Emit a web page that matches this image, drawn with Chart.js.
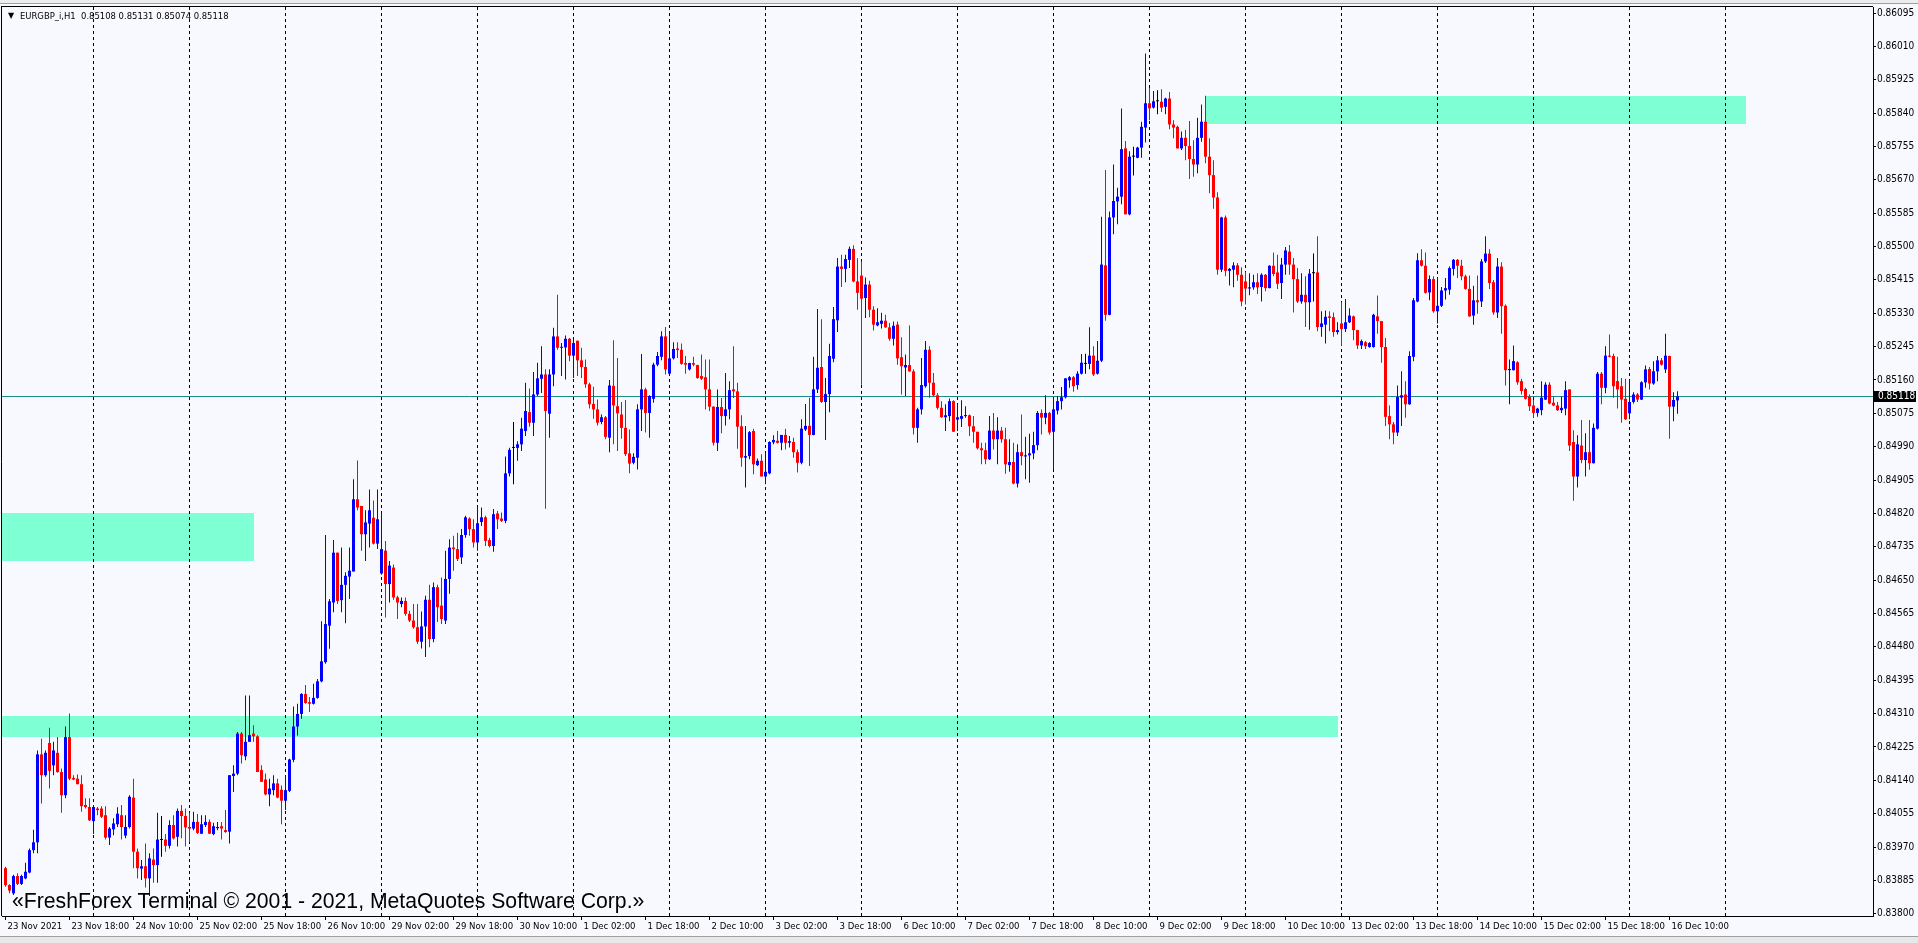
<!DOCTYPE html>
<html>
<head>
<meta charset="utf-8">
<script src="https://cdn.jsdelivr.net/npm/chart.js@4.4.1/dist/chart.umd.min.js"></script>
<style>
  html, body { margin:0; padding:0; background:#F8F8FF; overflow:hidden; }
  #wrap { position:relative; width:1918px; height:943px; background:#F8F8FF; }
  #c { position:absolute; left:0; top:0; }
  #topbar { position:absolute; left:0; top:0; width:1918px; height:3px; background:#EDEDED; border-bottom:1px solid #A0A0A0; }
  #tri { position:absolute; left:8px; top:10px; font-family:'DejaVu Sans',sans-serif; font-size:8px; line-height:12px; color:#000; }
  #header { position:absolute; left:20px; top:10px; font-family:'DejaVu Sans Condensed','DejaVu Sans',sans-serif; font-size:9.4px; color:#000; white-space:pre; line-height:12px; }
  #mark { position:absolute; left:12px; top:888px; font-family:'Liberation Sans',Arial,sans-serif; font-size:21.2px; color:#000; white-space:pre; line-height:26px; }
  #tabs { position:absolute; left:0; top:936px; width:1918px; height:7px; background:#E8E8E8; border-top:1px solid #A0A0A0; }
</style>
</head>
<body>
<div id="wrap">
  <canvas id="c" width="1918" height="943"></canvas>
  <div id="topbar"></div>
  <div id="tri">▼</div>
  <div id="header">EURGBP_i,H1  0.85108 0.85131 0.85074 0.85118</div>
  <div id="mark">«FreshForex Terminal © 2001 - 2021, MetaQuotes Software Corp.»</div>
  <div id="tabs"></div>
</div>
<script>
// ---- data: EURGBP H1, bar 0 = 23 Nov 2021 02:00 ----
const open = [
0.83916,0.83873,0.83852,0.83896,0.83876,0.83890,0.83905,0.83962,0.83982,0.84206,0.84153,0.84235,0.84178,0.84210,0.84161,0.84102,
0.84250,0.84146,0.84144,0.84130,0.84077,0.84072,0.84036,0.84068,0.84068,0.84051,0.83994,0.84015,0.84028,0.84051,0.83999,0.84021,
0.84096,0.83958,0.83915,0.83921,0.83890,0.83938,0.83924,0.83988,0.83989,0.83973,0.84026,0.83996,0.84062,0.84049,0.84021,0.84017,
0.84034,0.84004,0.84026,0.84034,0.84003,0.84018,0.84023,0.84013,0.84009,0.84151,0.84157,0.84259,0.84201,0.84238,0.84259,0.84252,
0.84166,0.84142,0.84104,0.84115,0.84132,0.84116,0.84088,0.84113,0.84192,0.84277,0.84309,0.84360,0.84339,0.84335,0.84350,0.84392,
0.84441,0.84534,0.84593,0.84720,0.84599,0.84638,0.84659,0.84672,0.84856,0.84839,0.84767,0.84794,0.84809,0.84743,0.84667,0.84725,
0.84640,0.84682,0.84606,0.84589,0.84597,0.84564,0.84547,0.84530,0.84493,0.84532,0.84600,0.84500,0.84632,0.84585,0.84547,0.84653,
0.84733,0.84729,0.84708,0.84765,0.84807,0.84780,0.84746,0.84798,0.84810,0.84752,0.84737,0.84820,0.84807,0.84801,0.84922,0.84987,
0.84987,0.84996,0.85030,0.85078,0.85051,0.85123,0.85163,0.85174,0.85074,0.85174,0.85271,0.85242,0.85243,0.85265,0.85222,0.85260,
0.85210,0.85193,0.85149,0.85099,0.85085,0.85053,0.85065,0.85013,0.85145,0.85093,0.85072,0.85038,0.84973,0.84949,0.84962,0.85085,
0.85136,0.85076,0.85112,0.85199,0.85219,0.85271,0.85176,0.85215,0.85240,0.85237,0.85203,0.85187,0.85203,0.85198,0.85170,0.85167,
0.85136,0.85092,0.85000,0.85091,0.85068,0.85085,0.85136,0.85131,0.85042,0.84962,0.84966,0.85030,0.84943,0.84954,0.84914,0.84922,
0.85001,0.85005,0.85000,0.85020,0.85000,0.85002,0.84976,0.84949,0.85034,0.85043,0.85020,0.85136,0.85193,0.85104,0.85124,0.85214,
0.85312,0.85449,0.85443,0.85466,0.85494,0.85411,0.85426,0.85369,0.85403,0.85339,0.85299,0.85303,0.85311,0.85294,0.85265,0.85301,
0.85218,0.85192,0.85198,0.85182,0.85038,0.85085,0.85144,0.85237,0.85153,0.85121,0.85089,0.85065,0.85068,0.85106,0.85059,0.85061,
0.85068,0.85070,0.85042,0.85028,0.84986,0.84981,0.84958,0.85031,0.85009,0.85031,0.85009,0.84943,0.84951,0.84896,0.84976,0.84965,
0.84968,0.84973,0.84994,0.85076,0.85064,0.85076,0.85028,0.85082,0.85106,0.85116,0.85159,0.85167,0.85147,0.85176,0.85201,0.85201,
0.85222,0.85176,0.85209,0.85452,0.85326,0.85574,0.85615,0.85627,0.85750,0.85582,0.85729,0.85726,0.85752,0.85803,0.85865,0.85854,
0.85870,0.85869,0.85856,0.85877,0.85811,0.85805,0.85750,0.85777,0.85756,0.85723,0.85709,0.85777,0.85818,0.85729,0.85682,0.85625,
0.85441,0.85574,0.85438,0.85441,0.85452,0.85428,0.85411,0.85393,0.85396,0.85409,0.85397,0.85428,0.85394,0.85451,0.85434,0.85407,
0.85454,0.85487,0.85454,0.85417,0.85360,0.85377,0.85358,0.85432,0.85434,0.85295,0.85301,0.85322,0.85320,0.85282,0.85304,0.85290,
0.85307,0.85322,0.85287,0.85248,0.85256,0.85244,0.85244,0.85322,0.85310,0.85244,0.85068,0.85047,0.85026,0.85115,0.85123,0.85098,
0.85219,0.85360,0.85465,0.85451,0.85383,0.85417,0.85335,0.85349,0.85388,0.85390,0.85443,0.85466,0.85451,0.85424,0.85392,0.85324,
0.85363,0.85360,0.85462,0.85482,0.85409,0.85332,0.85449,0.85349,0.85185,0.85185,0.85205,0.85157,0.85137,0.85117,0.85095,0.85076,
0.85083,0.85110,0.85148,0.85102,0.85095,0.85083,0.85087,0.85136,0.85002,0.84914,0.84993,0.84956,0.84976,0.84948,0.85036,0.85176,
0.85140,0.85222,0.85221,0.85157,0.85144,0.85112,0.85075,0.85104,0.85123,0.85110,0.85154,0.85188,0.85151,0.85182,0.85210,0.85187,
0.85221,0.85092,0.85108
];
const high = [
0.83920,0.83875,0.83899,0.83903,0.83899,0.83930,0.83966,0.84014,0.84216,0.84246,0.84216,0.84274,0.84238,0.84250,0.84170,0.84277,
0.84310,0.84153,0.84155,0.84153,0.84094,0.84094,0.84077,0.84072,0.84074,0.84074,0.84021,0.84043,0.84071,0.84077,0.84051,0.84102,
0.84144,0.83966,0.83937,0.83979,0.83954,0.83966,0.84057,0.84049,0.84003,0.84038,0.84051,0.84068,0.84077,0.84068,0.84057,0.84060,
0.84054,0.84051,0.84051,0.84040,0.84032,0.84034,0.84034,0.84064,0.84153,0.84178,0.84263,0.84263,0.84356,0.84356,0.84280,0.84255,
0.84178,0.84157,0.84144,0.84153,0.84144,0.84127,0.84153,0.84195,0.84328,0.84335,0.84362,0.84383,0.84352,0.84386,0.84398,0.84545,
0.84765,0.84602,0.84752,0.84720,0.84733,0.84670,0.84733,0.84907,0.84955,0.84839,0.84828,0.84881,0.84853,0.84881,0.84822,0.84750,
0.84699,0.84690,0.84610,0.84606,0.84606,0.84572,0.84589,0.84589,0.84570,0.84610,0.84638,0.84644,0.84638,0.84657,0.84725,0.84754,
0.84763,0.84771,0.84780,0.84814,0.84810,0.84805,0.84835,0.84835,0.84814,0.84758,0.84831,0.84826,0.84822,0.84965,0.84987,0.85053,
0.85004,0.85064,0.85153,0.85138,0.85180,0.85204,0.85246,0.85187,0.85187,0.85293,0.85377,0.85254,0.85273,0.85267,0.85263,0.85260,
0.85242,0.85212,0.85153,0.85143,0.85110,0.85072,0.85068,0.85160,0.85261,0.85216,0.85104,0.85109,0.85034,0.84973,0.85098,0.85226,
0.85140,0.85121,0.85204,0.85231,0.85284,0.85295,0.85280,0.85256,0.85256,0.85253,0.85221,0.85204,0.85219,0.85199,0.85225,0.85212,
0.85212,0.85093,0.85136,0.85114,0.85178,0.85157,0.85246,0.85153,0.85070,0.85043,0.85030,0.85036,0.84960,0.84971,0.84975,0.85004,
0.85019,0.85030,0.85020,0.85036,0.85017,0.85013,0.84983,0.85060,0.85099,0.85115,0.85219,0.85341,0.85315,0.85165,0.85252,0.85346,
0.85471,0.85479,0.85479,0.85500,0.85503,0.85470,0.85462,0.85421,0.85413,0.85348,0.85343,0.85331,0.85326,0.85305,0.85309,0.85309,
0.85269,0.85225,0.85299,0.85187,0.85089,0.85216,0.85259,0.85246,0.85178,0.85127,0.85106,0.85098,0.85113,0.85108,0.85098,0.85108,
0.85093,0.85072,0.85068,0.85028,0.85000,0.85000,0.85068,0.85076,0.85065,0.85040,0.85038,0.85009,0.85000,0.84996,0.85072,0.85015,
0.85023,0.85028,0.85081,0.85085,0.85121,0.85079,0.85115,0.85119,0.85142,0.85165,0.85170,0.85170,0.85182,0.85226,0.85227,0.85294,
0.85246,0.85259,0.85576,0.85695,0.85589,0.85709,0.85650,0.85852,0.85769,0.85743,0.85754,0.85754,0.85818,0.85992,0.85904,0.85896,
0.85898,0.85901,0.85879,0.85894,0.85822,0.85808,0.85793,0.85797,0.85820,0.85771,0.85828,0.85862,0.85884,0.85776,0.85720,0.85638,
0.85576,0.85579,0.85445,0.85460,0.85458,0.85447,0.85435,0.85432,0.85428,0.85432,0.85432,0.85430,0.85452,0.85485,0.85479,0.85471,
0.85499,0.85504,0.85471,0.85445,0.85432,0.85424,0.85443,0.85482,0.85526,0.85335,0.85337,0.85335,0.85332,0.85307,0.85358,0.85366,
0.85343,0.85324,0.85288,0.85263,0.85259,0.85256,0.85329,0.85375,0.85310,0.85267,0.85095,0.85053,0.85146,0.85182,0.85157,0.85233,
0.85369,0.85483,0.85493,0.85485,0.85426,0.85424,0.85420,0.85397,0.85420,0.85449,0.85468,0.85468,0.85466,0.85428,0.85426,0.85400,
0.85426,0.85468,0.85526,0.85493,0.85415,0.85471,0.85460,0.85352,0.85212,0.85248,0.85208,0.85163,0.85140,0.85123,0.85109,0.85089,
0.85157,0.85154,0.85154,0.85117,0.85104,0.85117,0.85157,0.85136,0.85032,0.85019,0.85058,0.85024,0.85058,0.85049,0.85180,0.85180,
0.85246,0.85276,0.85227,0.85219,0.85165,0.85163,0.85160,0.85129,0.85127,0.85157,0.85197,0.85193,0.85208,0.85221,0.85216,0.85278,
0.85222,0.85129,0.85131
];
const low = [
0.83869,0.83852,0.83848,0.83873,0.83873,0.83888,0.83903,0.83954,0.83954,0.84081,0.84149,0.84119,0.84153,0.84159,0.84057,0.84094,
0.84140,0.84140,0.84130,0.84060,0.84068,0.84036,0.84003,0.84051,0.84044,0.83989,0.83975,0.84000,0.84021,0.83989,0.83992,0.84017,
0.83916,0.83890,0.83886,0.83867,0.83845,0.83879,0.83879,0.83945,0.83958,0.83966,0.83989,0.83971,0.83992,0.83971,0.83983,0.84013,
0.84003,0.84003,0.84021,0.84003,0.84000,0.84013,0.83989,0.84006,0.83979,0.84110,0.84153,0.84183,0.84191,0.84238,0.84238,0.84161,
0.84136,0.84102,0.84074,0.84102,0.84094,0.84028,0.84064,0.84110,0.84186,0.84254,0.84297,0.84335,0.84314,0.84333,0.84348,0.84390,
0.84437,0.84475,0.84568,0.84589,0.84568,0.84540,0.84602,0.84672,0.84828,0.84725,0.84699,0.84733,0.84741,0.84729,0.84664,0.84555,
0.84593,0.84600,0.84551,0.84581,0.84559,0.84543,0.84526,0.84487,0.84476,0.84454,0.84479,0.84492,0.84543,0.84538,0.84538,0.84615,
0.84674,0.84699,0.84691,0.84758,0.84763,0.84733,0.84725,0.84788,0.84737,0.84733,0.84722,0.84780,0.84798,0.84795,0.84914,0.84894,
0.84954,0.84979,0.85017,0.85041,0.85017,0.85119,0.85127,0.84832,0.85013,0.85144,0.85237,0.85170,0.85161,0.85208,0.85165,0.85170,
0.85165,0.85140,0.85087,0.85061,0.85044,0.85047,0.85009,0.84976,0.84996,0.84979,0.85010,0.84966,0.84922,0.84945,0.84932,0.85030,
0.85026,0.85013,0.85102,0.85195,0.85210,0.85174,0.85174,0.85212,0.85216,0.85199,0.85176,0.85184,0.85195,0.85163,0.85160,0.85085,
0.85081,0.84993,0.84979,0.85024,0.85044,0.85060,0.85114,0.84985,0.84939,0.84886,0.84958,0.84920,0.84941,0.84914,0.84894,0.84920,
0.84996,0.84998,0.84981,0.84983,0.84988,0.84962,0.84924,0.84945,0.85030,0.84941,0.85019,0.85127,0.85102,0.85007,0.85078,0.85205,
0.85282,0.85397,0.85409,0.85445,0.85409,0.85339,0.85148,0.85318,0.85320,0.85286,0.85297,0.85291,0.85293,0.85260,0.85248,0.85199,
0.85123,0.85119,0.85181,0.85021,0.85000,0.85072,0.85140,0.85115,0.85119,0.85085,0.85064,0.85030,0.85055,0.85028,0.85030,0.85040,
0.85064,0.85017,0.85000,0.84983,0.84945,0.84945,0.84956,0.84983,0.84945,0.85000,0.84921,0.84926,0.84894,0.84886,0.84943,0.84907,
0.84898,0.84958,0.84981,0.85021,0.85047,0.85021,0.84932,0.85072,0.85085,0.85113,0.85140,0.85130,0.85136,0.85174,0.85176,0.85187,
0.85170,0.85174,0.85206,0.85311,0.85325,0.85531,0.85557,0.85608,0.85582,0.85580,0.85681,0.85725,0.85726,0.85765,0.85822,0.85852,
0.85837,0.85843,0.85837,0.85799,0.85776,0.85750,0.85746,0.85720,0.85672,0.85678,0.85687,0.85767,0.85712,0.85636,0.85596,0.85428,
0.85435,0.85424,0.85401,0.85396,0.85413,0.85348,0.85352,0.85376,0.85390,0.85379,0.85360,0.85386,0.85394,0.85424,0.85392,0.85366,
0.85428,0.85428,0.85332,0.85356,0.85354,0.85295,0.85288,0.85360,0.85284,0.85270,0.85253,0.85284,0.85270,0.85276,0.85248,0.85282,
0.85305,0.85261,0.85239,0.85239,0.85239,0.85242,0.85242,0.85278,0.85204,0.85043,0.85009,0.84996,0.85017,0.85043,0.85064,0.85097,
0.85208,0.85358,0.85449,0.85380,0.85363,0.85331,0.85304,0.85346,0.85365,0.85377,0.85426,0.85420,0.85414,0.85390,0.85321,0.85301,
0.85329,0.85346,0.85458,0.85392,0.85326,0.85318,0.85278,0.85146,0.85098,0.85184,0.85148,0.85123,0.85110,0.85081,0.85064,0.85066,
0.85070,0.85109,0.85098,0.85093,0.85081,0.85076,0.85070,0.84979,0.84852,0.84886,0.84948,0.84914,0.84931,0.84947,0.85034,0.85098,
0.85126,0.85218,0.85115,0.85087,0.85051,0.85058,0.85060,0.85100,0.85104,0.85109,0.85140,0.85136,0.85148,0.85157,0.85197,0.85178,
0.85010,0.85055,0.85074
];
const close = [
0.83873,0.83859,0.83896,0.83876,0.83896,0.83907,0.83962,0.83982,0.84206,0.84153,0.84210,0.84164,0.84216,0.84161,0.84102,0.84250,
0.84144,0.84142,0.84130,0.84074,0.84072,0.84038,0.84072,0.84064,0.84047,0.83994,0.84017,0.84030,0.84055,0.84021,0.84021,0.84098,
0.83958,0.83916,0.83921,0.83890,0.83941,0.83924,0.83989,0.83988,0.83973,0.84026,0.83992,0.84062,0.84049,0.84020,0.84017,0.84034,
0.84006,0.84028,0.84034,0.84004,0.84023,0.84021,0.84017,0.84008,0.84153,0.84157,0.84259,0.84204,0.84238,0.84255,0.84252,0.84161,
0.84136,0.84104,0.84119,0.84132,0.84096,0.84088,0.84115,0.84193,0.84277,0.84309,0.84360,0.84337,0.84335,0.84350,0.84392,0.84443,
0.84538,0.84596,0.84720,0.84597,0.84638,0.84661,0.84674,0.84856,0.84835,0.84767,0.84797,0.84828,0.84743,0.84805,0.84729,0.84640,
0.84687,0.84606,0.84593,0.84597,0.84564,0.84547,0.84530,0.84493,0.84532,0.84600,0.84500,0.84632,0.84581,0.84551,0.84653,0.84733,
0.84729,0.84704,0.84765,0.84810,0.84780,0.84746,0.84795,0.84810,0.84750,0.84737,0.84818,0.84805,0.84801,0.84922,0.84982,0.84987,
0.84996,0.85036,0.85081,0.85051,0.85123,0.85164,0.85174,0.85081,0.85174,0.85271,0.85242,0.85243,0.85265,0.85222,0.85254,0.85210,
0.85193,0.85149,0.85098,0.85085,0.85051,0.85065,0.85015,0.85146,0.85095,0.85075,0.85038,0.84971,0.84947,0.84964,0.85085,0.85136,
0.85076,0.85119,0.85199,0.85221,0.85271,0.85187,0.85215,0.85239,0.85236,0.85201,0.85199,0.85203,0.85199,0.85165,0.85163,0.85136,
0.85092,0.85000,0.85091,0.85068,0.85085,0.85134,0.85131,0.85041,0.84962,0.84966,0.85027,0.84945,0.84954,0.84914,0.84926,0.85002,
0.85007,0.85000,0.85020,0.85000,0.85004,0.84976,0.84949,0.85036,0.85043,0.85020,0.85136,0.85191,0.85104,0.85124,0.85221,0.85315,
0.85449,0.85443,0.85468,0.85494,0.85411,0.85382,0.85367,0.85403,0.85339,0.85301,0.85307,0.85311,0.85294,0.85265,0.85298,0.85215,
0.85195,0.85198,0.85182,0.85038,0.85085,0.85147,0.85237,0.85153,0.85121,0.85089,0.85065,0.85070,0.85106,0.85028,0.85065,0.85068,
0.85070,0.85042,0.85028,0.84986,0.84981,0.84958,0.85031,0.85009,0.85031,0.85009,0.84945,0.84951,0.84896,0.84976,0.84966,0.84968,
0.84973,0.84994,0.85076,0.85064,0.85076,0.85026,0.85085,0.85106,0.85116,0.85164,0.85167,0.85144,0.85176,0.85204,0.85201,0.85222,
0.85174,0.85209,0.85454,0.85326,0.85574,0.85616,0.85627,0.85748,0.85582,0.85729,0.85729,0.85752,0.85805,0.85865,0.85852,0.85870,
0.85870,0.85854,0.85877,0.85811,0.85803,0.85750,0.85777,0.85756,0.85723,0.85709,0.85777,0.85818,0.85729,0.85682,0.85625,0.85441,
0.85574,0.85438,0.85443,0.85452,0.85428,0.85360,0.85393,0.85396,0.85409,0.85396,0.85428,0.85394,0.85451,0.85430,0.85405,0.85454,
0.85490,0.85454,0.85417,0.85360,0.85377,0.85358,0.85431,0.85432,0.85295,0.85304,0.85321,0.85318,0.85282,0.85287,0.85290,0.85307,
0.85324,0.85287,0.85248,0.85259,0.85246,0.85254,0.85326,0.85310,0.85244,0.85066,0.85047,0.85026,0.85117,0.85121,0.85098,0.85221,
0.85363,0.85465,0.85451,0.85382,0.85417,0.85335,0.85349,0.85388,0.85394,0.85445,0.85466,0.85451,0.85424,0.85392,0.85322,0.85363,
0.85358,0.85462,0.85482,0.85407,0.85332,0.85449,0.85348,0.85185,0.85188,0.85208,0.85154,0.85132,0.85112,0.85093,0.85076,0.85087,
0.85115,0.85148,0.85100,0.85095,0.85083,0.85089,0.85134,0.84993,0.84914,0.84996,0.84956,0.84976,0.84948,0.85038,0.85176,0.85140,
0.85222,0.85219,0.85144,0.85136,0.85110,0.85060,0.85104,0.85123,0.85110,0.85154,0.85187,0.85151,0.85182,0.85210,0.85199,0.85222,
0.85092,0.85109,0.85118
];
// time axis labels (every 16 bars) and day separators (bar index of 00:00)
const timeLabelBars = [0,16,32,48,64,80,96,112,128,144,160,176,192,208,224,240,256,272,288,304,320,336,352,368,384,400,416];
const timeLabels = ['23 Nov 2021','23 Nov 18:00','24 Nov 10:00','25 Nov 02:00','25 Nov 18:00','26 Nov 10:00','29 Nov 02:00','29 Nov 18:00','30 Nov 10:00','1 Dec 02:00','1 Dec 18:00','2 Dec 10:00','3 Dec 02:00','3 Dec 18:00','6 Dec 10:00','7 Dec 02:00','7 Dec 18:00','8 Dec 10:00','9 Dec 02:00','9 Dec 18:00','10 Dec 10:00','13 Dec 02:00','13 Dec 18:00','14 Dec 10:00','15 Dec 02:00','15 Dec 18:00','16 Dec 10:00'];
const daySeparators = [22,46,70,94,118,142,166,190,214,238,262,286,310,334,358,382,406,430];
const priceTicks = [0.83800,0.83885,0.83970,0.84055,0.84140,0.84225,0.84310,0.84395,0.84480,0.84565,0.84650,0.84735,0.84820,0.84905,0.84990,0.85075,0.85160,0.85245,0.85330,0.85415,0.85500,0.85585,0.85670,0.85755,0.85840,0.85925,0.86010,0.86095];
// supply/demand rectangles: [fromBar, toBar, upperPrice, lowerPrice]
const zoneFrom  = [300, -5, -5];
const zoneTo    = [435, 62, 333];
const zoneHigh  = [0.85884, 0.84820, 0.84304];
const zoneLow   = [0.85811, 0.84699, 0.84250];

// ---- build chart ----
const UP='#0000FF', DOWN='#FF0000', DOJI='#000000';
const colors = close.map((c,i)=> c>open[i] ? UP : (c<open[i] ? DOWN : DOJI));
const bodies = close.map((c,i)=>({x:i, y:[Math.min(open[i],c), Math.max(open[i],c)]}));
const wicks  = close.map((c,i)=>({x:i, y:[low[i], high[i]]}));
const FONT = "'DejaVu Sans Condensed','DejaVu Sans',sans-serif";
const XMIN = -0.875, XMAX = 466.875;

const overlay = {
  id:'mtOverlay',
  beforeDraw(chart){
    const {ctx, chartArea:a, scales:{x,y}} = chart;
    ctx.save();
    ctx.beginPath(); ctx.rect(a.left, a.top, a.right-a.left, a.bottom-a.top); ctx.clip();
    ctx.fillStyle = '#7FFFD4';
    for (let k=0;k<zoneFrom.length;k++){
      const x1 = Math.round(x.getPixelForValue(zoneFrom[k])), x2 = Math.round(x.getPixelForValue(zoneTo[k]));
      const y1 = Math.round(y.getPixelForValue(zoneHigh[k])), y2 = Math.round(y.getPixelForValue(zoneLow[k]));
      ctx.fillRect(x1, y1, x2-x1, y2-y1);
    }
    ctx.restore();
  },
  beforeDatasetsDraw(chart){
    const {ctx, chartArea:a, scales:{y}} = chart;
    const py = Math.round(y.getPixelForValue(close[close.length-1])) + 0.5;
    ctx.save();
    ctx.strokeStyle = '#1F8A8A'; ctx.lineWidth = 1;
    ctx.beginPath(); ctx.moveTo(a.left, py); ctx.lineTo(a.right, py); ctx.stroke();
    ctx.restore();
  },
  afterDraw(chart){
    const {ctx, chartArea:a, scales:{y}} = chart;
    ctx.save();
    ctx.strokeStyle = '#000'; ctx.lineWidth = 1;
    ctx.beginPath();
    ctx.moveTo(1.5, a.top-0.5); ctx.lineTo(1.5, a.bottom);
    ctx.moveTo(1, a.top-0.5); ctx.lineTo(a.right, a.top-0.5);
    ctx.stroke();
    const last = close[close.length-1];
    const py = Math.round(y.getPixelForValue(last));
    ctx.fillStyle = '#000';
    ctx.fillRect(a.right, py-5, 43, 11);
    ctx.fillStyle = '#FFF';
    ctx.font = "10px " + FONT;
    ctx.textBaseline = 'middle'; ctx.textAlign = 'left';
    ctx.fillText(last.toFixed(5), a.right+5, py+0.5);
    ctx.restore();
  }
};

new Chart(document.getElementById('c'), {
  type:'bar',
  data:{ datasets:[
    { label:'body', data:bodies, backgroundColor:colors, barThickness:3, minBarLength:1, grouped:false, inflateAmount:0, borderWidth:0, xAxisID:'x', yAxisID:'y' },
    { label:'wick', data:wicks, backgroundColor:colors, barThickness:1, grouped:false, inflateAmount:0, borderWidth:0, xAxisID:'x', yAxisID:'y' }
  ]},
  options:{
    responsive:false, animation:false, devicePixelRatio:1,
    layout:{ padding:{ left:2, top:5, right:0, bottom:0 } },
    plugins:{ legend:{display:false}, tooltip:{enabled:false} },
    scales:{
      x:{ type:'linear', position:'bottom', min:XMIN, max:XMAX, offset:false,
          afterBuildTicks:s=>{ s.ticks = timeLabelBars.map(v=>({value:v})); },
          afterFit:s=>{ s.height = 27; },
          ticks:{ autoSkip:false, maxRotation:0, minRotation:0, align:'start', labelOffset:2, padding:1, color:'#000',
                  font:{ family:FONT, size:9.5 }, callback:(v,i)=>timeLabels[i] },
          grid:{ offset:false, drawOnChartArea:false, drawTicks:true, tickLength:4, tickColor:'#000', color:'#000' },
          border:{ display:true, color:'#000', width:1 } },
      sep:{ type:'linear', position:'bottom', min:XMIN, max:XMAX, offset:false,
          afterBuildTicks:s=>{ s.ticks = daySeparators.map(v=>({value:v})); },
          afterFit:s=>{ s.height = 0; },
          ticks:{ display:false },
          grid:{ offset:false, drawOnChartArea:true, drawTicks:false, color:'#000', lineWidth:1 },
          border:{ display:false, dash:[3,3] } },
      y:{ type:'linear', position:'right', min:0.837942, max:0.861103,
          afterBuildTicks:s=>{ s.ticks = priceTicks.map(v=>({value:v})); },
          afterFit:s=>{ s.width = 45; },
          ticks:{ autoSkip:false, padding:1, color:'#000', font:{ family:FONT, size:10 }, callback:v=>v.toFixed(5) },
          grid:{ offset:false, drawOnChartArea:false, drawTicks:true, tickLength:3, tickColor:'#000' },
          border:{ display:true, color:'#000', width:1 } }
    }
  },
  plugins:[overlay]
});
</script>
</body>
</html>
